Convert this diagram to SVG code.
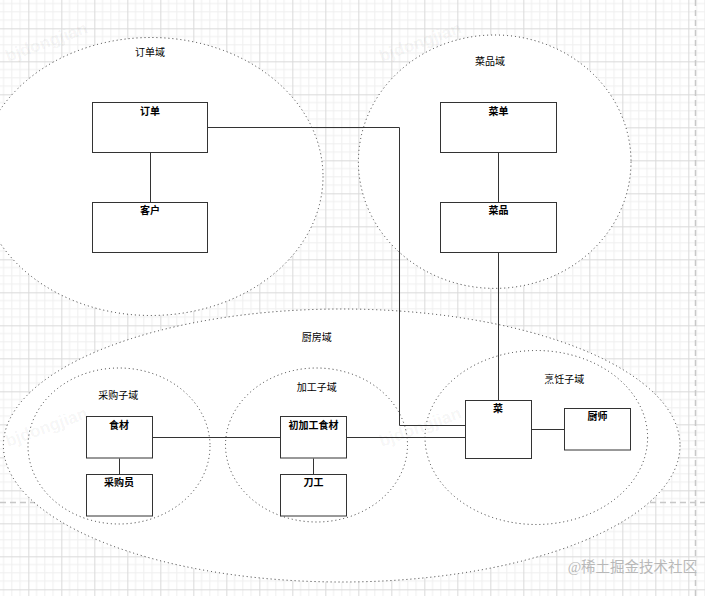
<svg xmlns="http://www.w3.org/2000/svg" width="705" height="596" viewBox="0 0 705 596">
<style>
.dom{fill:#fff;stroke:#333;stroke-width:1;stroke-dasharray:1 3}
.box{fill:#fff;stroke:#333;stroke-width:1}
.edge{fill:none;stroke:#333;stroke-width:1}
.lbl{font-family:"Liberation Sans","Noto Sans CJK SC",sans-serif;font-size:10px;fill:#000;text-anchor:middle;dominant-baseline:central}
.nl{font-weight:bold}
.wm{font-family:"Liberation Sans",sans-serif;font-size:17px;font-weight:bold;fill:#000;fill-opacity:0.05}
</style>
<defs>
<pattern id="grid" patternUnits="userSpaceOnUse" x="28.33" y="28.33" width="33" height="33">
<path d="M8.25 0V33M16.5 0V33M24.75 0V33M0 8.25H33M0 16.5H33M0 24.75H33" fill="none" stroke="#efefef" stroke-width="1"/>
<path d="M0.5 0V33M0 0.5H33" fill="none" stroke="#dadada" stroke-width="1"/>
</pattern>
</defs>
<rect width="705" height="596" fill="#fff"/>
<rect width="705" height="596" fill="url(#grid)"/>
<g id="page-breaks" fill="none" stroke="#c8c8c8" stroke-width="1.5" stroke-dasharray="6 4">
<path d="M695.5 0V596"/>
<path d="M0 502.5H705"/>
</g>
<g id="order-domain"><ellipse class="dom" cx="151" cy="176.5" rx="172" ry="139"/><text class="lbl" x="150" y="52">订单域</text></g>
<g id="dish-domain"><ellipse class="dom" cx="494.7" cy="161.7" rx="136.3" ry="126.7"/><text class="lbl" x="490" y="61">菜品域</text></g>
<g id="kitchen-domain"><ellipse class="dom" cx="341.7" cy="445.5" rx="338.3" ry="136.5"/><text class="lbl" x="316.7" y="337.3">厨房域</text></g>
<g id="purchase-subdomain"><ellipse class="dom" cx="119" cy="446" rx="91" ry="78"/><text class="lbl" x="118.3" y="395.7">采购子域</text></g>
<g id="process-subdomain"><ellipse class="dom" cx="316.5" cy="445" rx="91" ry="77"/><text class="lbl" x="316.7" y="387.3">加工子域</text></g>
<g id="cook-subdomain"><ellipse class="dom" cx="536.3" cy="437.5" rx="111.3" ry="87"/><text class="lbl" x="564.3" y="379.3">烹饪子域</text></g>
<g id="connectors">
<path class="edge" d="M207.5 127.5H399.5V425.5H465.5"/>
<path class="edge" d="M150.5 152.5V202.5"/>
<path class="edge" d="M498.5 152.5V202.5"/>
<path class="edge" d="M498.5 252.5V400.5"/>
<path class="edge" d="M531.5 429.5H564.5"/>
<path class="edge" d="M152.5 437.5H280.5"/>
<path class="edge" d="M346.5 437.5H465.5"/>
<path class="edge" d="M119.5 458.5V474.5"/>
<path class="edge" d="M313.5 458.5V474.5"/>
</g>
<g id="order"><rect class="box" x="92.5" y="102.5" width="115" height="50"/><text class="lbl nl" x="150" y="111.7">订单</text></g>
<g id="customer"><rect class="box" x="92.5" y="202.5" width="115" height="50"/><text class="lbl nl" x="150" y="210.7">客户</text></g>
<g id="menu"><rect class="box" x="440.5" y="102.5" width="116" height="50"/><text class="lbl nl" x="498.5" y="111.5">菜单</text></g>
<g id="dish-item"><rect class="box" x="440.5" y="202.5" width="116" height="50"/><text class="lbl nl" x="498.5" y="210.5">菜品</text></g>
<g id="dish"><rect class="box" x="465.5" y="400.5" width="66" height="58"/><text class="lbl nl" x="498" y="408.5">菜</text></g>
<g id="chef"><rect class="box" x="564.5" y="408.5" width="66" height="41.5"/><text class="lbl nl" x="597.5" y="416.7">厨师</text></g>
<g id="ingredient"><rect class="box" x="86.5" y="416.5" width="66" height="41.5"/><text class="lbl nl" x="119" y="425.7">食材</text></g>
<g id="buyer"><rect class="box" x="86.5" y="474.5" width="66" height="41.5"/><text class="lbl nl" x="119" y="482.7">采购员</text></g>
<g id="processed-ingredient"><rect class="box" x="280.5" y="416.5" width="66" height="41.5"/><text class="lbl nl" x="313.5" y="425.7">初加工食材</text></g>
<g id="cutter"><rect class="box" x="280.5" y="474.5" width="66" height="41.5"/><text class="lbl nl" x="313.5" y="482.7">刀工</text></g>
<g id="watermarks">
<text class="wm" transform="translate(8 62) rotate(-20)">bjdongjian</text>
<text class="wm" transform="translate(381.7 62) rotate(-20)">bjdongjian</text>
<text class="wm" transform="translate(8 447) rotate(-20)">bjdongjian</text>
<text class="wm" transform="translate(381.7 447) rotate(-20)">bjdongjian</text>
<text x="697" y="571.5" text-anchor="end" font-family="Liberation Serif,'Noto Sans CJK SC',serif" font-size="14.5" fill="#b8b8b8">@稀土掘金技术社区</text>
</g>
</svg>
